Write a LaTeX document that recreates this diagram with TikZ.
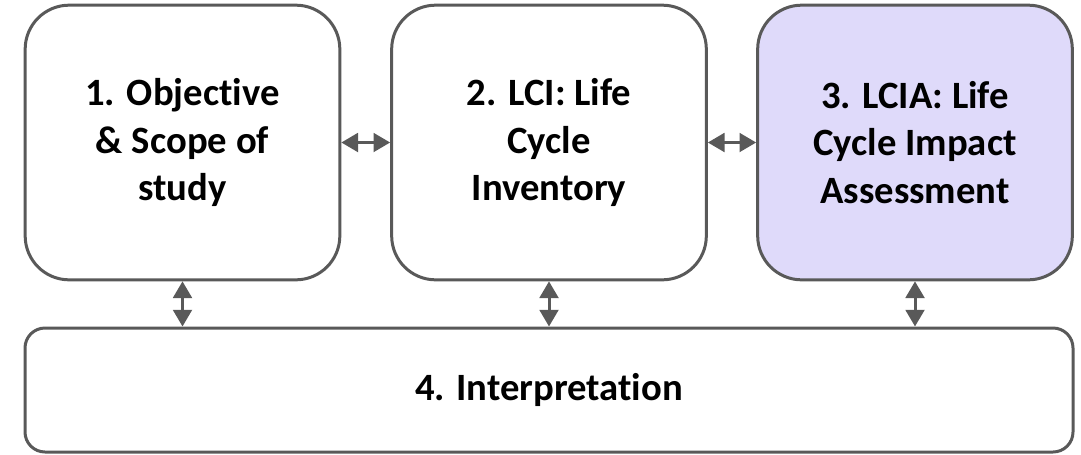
\documentclass[tikz,border=0pt]{standalone}
\usepackage{fontspec}
\setmainfont{Carlito}[Ligatures=NoCommon]
\usetikzlibrary{arrows.meta}
\definecolor{boxline}{RGB}{89,89,89}
\definecolor{boxfill}{RGB}{223,218,250}
\tikzset{
	phase/.style={draw=boxline, line width=2.25pt, rounded corners=33pt, align=center,
		minimum width=236pt, minimum height=206pt, inner sep=0pt,
		font=\fontsize{29}{35.5}\selectfont\bfseries},
	biarrow/.style={draw=boxline, line width=2.25pt, {Triangle[length=12.5pt,width=14pt]}-{Triangle[length=12.5pt,width=14pt]}}
}
\begin{document}
\begin{tikzpicture}[x=0.75pt,y=-0.75pt]
				\useasboundingbox (0,0) rectangle (1081,454);
				\node[phase] (obj) at (182.5,142.5) {1. Objective\\\& Scope of\\study};
				\node[phase] (lci) at (549,142.5) {2. LCI: Life\\Cycle\\Inventory};
				\node[phase, fill=boxfill] (lcia) at (915,142.5) {3. LCIA: Life\\Cycle Impact\\Assessment};
				\node[phase, minimum width=786pt, minimum height=93pt, rounded corners=15pt] (interp) at (549,390) {4. Interpretation};
				\draw[biarrow] (obj) -- (lci);
				\draw[biarrow] (lci) -- (lcia);
				\draw[biarrow] (obj.south) -- (obj.south |- interp.north);
				\draw[biarrow] (lci.south) -- (lci.south |- interp.north);
				\draw[biarrow] (lcia.south) -- (lcia.south |- interp.north);
			\end{tikzpicture}
\end{document}
